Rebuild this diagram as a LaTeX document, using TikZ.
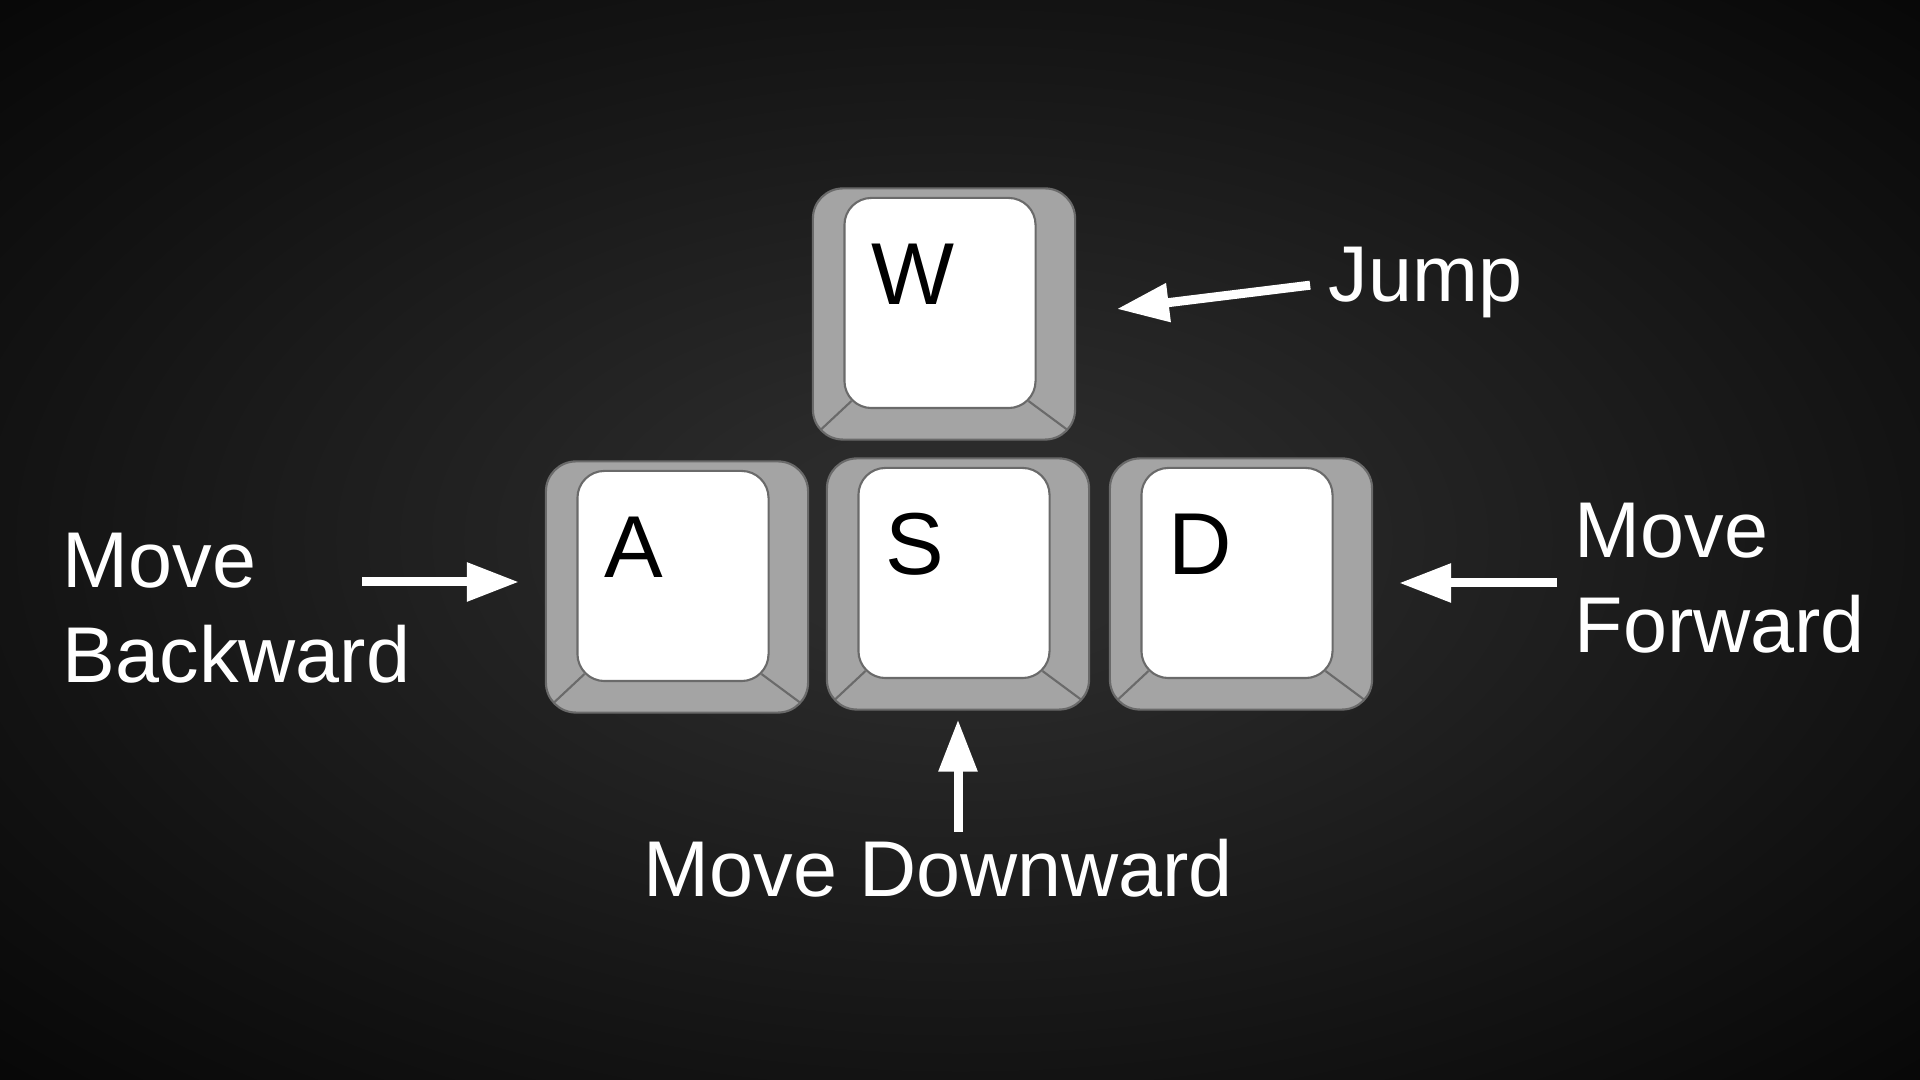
\documentclass[tikz,border=0pt]{standalone}
\usepackage{fontspec}
\setmainfont{Liberation Sans}
\usetikzlibrary{positioning,calc,arrows.meta}
\definecolor{bgin}{HTML}{2B2B2B}
\definecolor{bgmid}{HTML}{131313}
\definecolor{bgout}{HTML}{070707}
\definecolor{keygray}{HTML}{A4A4A4}
\definecolor{keyline}{HTML}{6A6A6A}
\pgfdeclareradialshading{vignette}{\pgfpoint{0bp}{0bp}}{color(0bp)=(bgin); color(5bp)=(bgin); color(25bp)=(bgmid); color(36bp)=(bgout); color(50bp)=(bgout)}

\tikzset{
  keycap/.style={draw=keyline, line width=0.6pt, fill=keygray, rounded corners=0.3cm,
    minimum width=2.62cm, minimum height=2.51cm, inner sep=0pt},
  keytop/.style={draw=keyline, line width=0.6pt, fill=white, rounded corners=0.27cm,
    minimum width=1.91cm, minimum height=2.1cm, inner sep=0pt},
  keyedge/.style={keyline, line width=0.6pt},
  keyletter/.style={anchor=base west, inner sep=0pt, font=\fontsize{25}{30}\selectfont},
  lbl/.style={text=white, inner sep=0pt, align=left, font=\fontsize{22.5}{27}\selectfont},
  whitearrow/.style={draw=white, line width=0.09cm, -{Triangle[length=0.52cm,width=0.37cm]}},
}

\begin{document}
\begin{tikzpicture}[x=0.01cm, y=-0.01cm]
  % background
  \shade[shading=vignette] (0,0) rectangle (1920,1080);
  \useasboundingbox (0,0) rectangle (1920,1080);

  % W A S D keys
  \foreach \k/\x/\y in {W/944/314, A/677/587, S/958/584, D/1241/584} {
    \node[keycap] (key\k) at (\x,\y) {};
    \node[keytop] (top\k) at ([xshift=-0.04cm,yshift=0.11cm]key\k.center) {};
    \draw[keyedge] ([xshift=0.08cm,yshift=0.08cm]top\k.south west) -- ([xshift=0.09cm,yshift=0.11cm]key\k.south west);
    \draw[keyedge] ([xshift=-0.08cm,yshift=0.08cm]top\k.south east) -- ([xshift=-0.09cm,yshift=0.11cm]key\k.south east);
    \node[keyletter] (let\k) at ([xshift=0.27cm,yshift=-1.08cm]top\k.north west) {\k};
  }

  % labels
  \node[lbl, anchor=base west] (jump) at (1328,302) {Jump};
  \node[lbl, anchor=north west] (back) at (62,532) {Move\\Backward};
  \node[lbl, anchor=north west] (fwd) at (1574,502) {Move\\Forward};
  \node[lbl, anchor=base west] (down) at (643,897) {Move Downward};

  % arrows
  \coordinate (backTail) at (362,582);
  \coordinate (fwdTail) at (1557,583);
  \draw[whitearrow, shorten <=0.18cm, shorten >=0.41cm] (jump.west) -- (keyW.east);
  \draw[whitearrow, shorten >=0.26cm] (backTail) -- (backTail -| keyA.west);
  \draw[whitearrow, shorten >=0.26cm] (fwdTail) -- (fwdTail -| keyD.east);
  \draw[whitearrow, shorten <=0.07cm, shorten >=0.09cm] (keyS.south |- down.north) -- (keyS.south);
\end{tikzpicture}
\end{document}
